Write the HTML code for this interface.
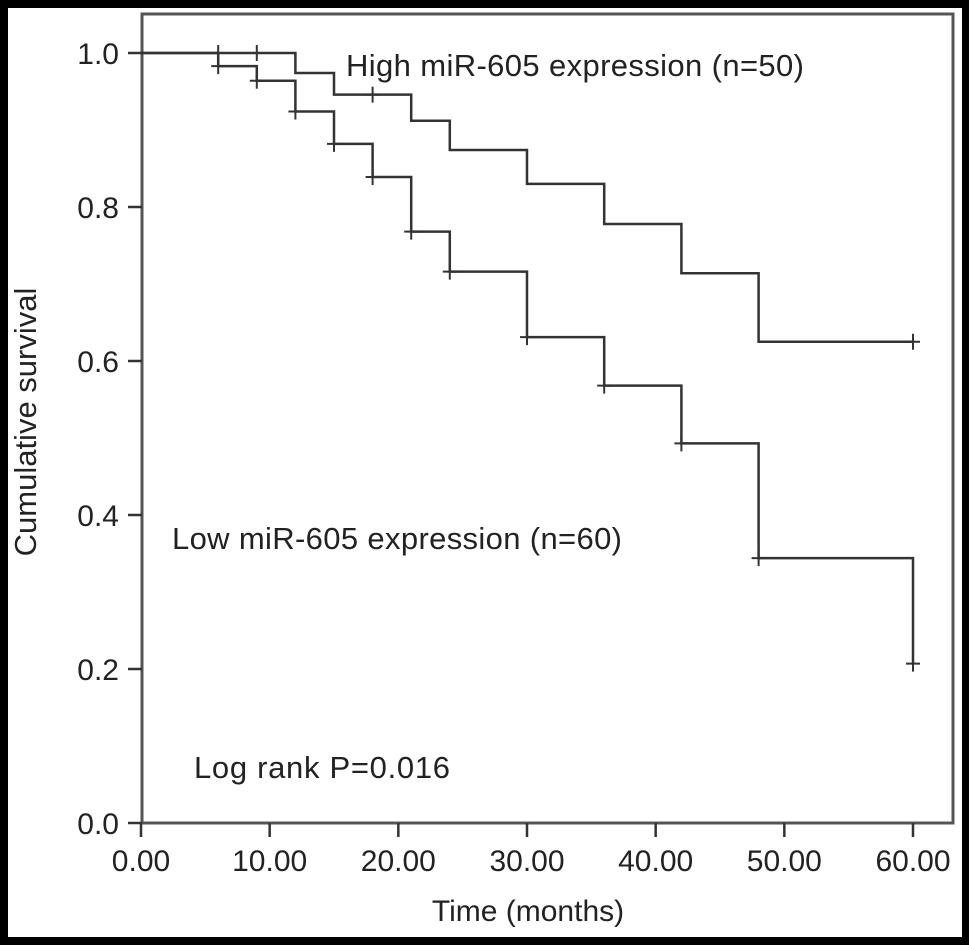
<!DOCTYPE html>
<html><head><meta charset="utf-8"><style>
html,body{margin:0;padding:0;background:#000;}
svg{display:block;}
text{font-family:"Liberation Sans",Arial,sans-serif;fill:#222;}
</style></head><body>
<svg width="969" height="945" viewBox="0 0 969 945">
<rect x="8" y="8" width="954" height="929" fill="#fff"/>
<g id="plot"></g>
<text x="346" y="76" font-size="31" textLength="458">High miR-605 expression (n=50)</text>
<text x="172" y="549" font-size="31" textLength="450">Low miR-605 expression (n=60)</text>
<text x="194" y="778" font-size="31" textLength="256">Log rank P=0.016</text>
<text x="528" y="921" font-size="30" text-anchor="middle">Time (months)</text>
<text transform="translate(36,422) rotate(-90)" font-size="31" text-anchor="middle">Cumulative survival</text>
</svg>
<script>
const xTicks=[0,10,20,30,40,50,60];
const xTickLabels=["0.00","10.00","20.00","30.00","40.00","50.00","60.00"];
const yTicks=[0,0.2,0.4,0.6,0.8,1.0];
const yTickLabels=["0.0","0.2","0.4","0.6","0.8","1.0"];
const highTimes=[0,12,15,21,24,30,36,42,48];
const highSurv=[1.0,0.974,0.946,0.912,0.874,0.830,0.778,0.714,0.625];
const highCensor=[6,9,18,60];
const lowTimes=[0,6,9,12,15,18,21,24,30,36,42,48,60];
const lowSurv=[1.0,0.983,0.964,0.924,0.882,0.839,0.768,0.716,0.631,0.568,0.493,0.344,0.207];
const lowCensor=[6,9,12,15,18,21,24,30,36,42,48,60];

const NS="http://www.w3.org/2000/svg";
const g=document.getElementById('plot');
const X=t=>141+t*(913-141)/60;
const Y=v=>823-v*(823-53);
function el(tag,attrs){const e=document.createElementNS(NS,tag);for(const k in attrs)e.setAttribute(k,attrs[k]);g.appendChild(e);return e;}

const frame=el('rect',{x:142,y:14,width:811,height:809,fill:'none',stroke:'#555',"stroke-width":3});



xTicks.forEach((t,i)=>{
  const l=el('line',{x1:X(t),x2:X(t),y1:823,y2:837,stroke:'#333',"stroke-width":2.5});
  
  
  const tx=el('text',{x:X(t),y:871,"font-size":30,"text-anchor":"middle"});
  tx.textContent=xTickLabels[i];
  
  
});
yTicks.forEach((v,i)=>{
  const l=el('line',{x1:128,x2:142,y1:Y(v),y2:Y(v),stroke:'#333',"stroke-width":2.5});
  
  
  const tx=el('text',{x:119,y:Y(v)+11,"font-size":30,"text-anchor":"end"});
  tx.textContent=yTickLabels[i];
  
  
});

function curve(times,surv,censor,endT,name){
  let d=`M${X(times[0])},${Y(surv[0])}`;
  for(let i=1;i<times.length;i++){d+=` H${X(times[i])} V${Y(surv[i])}`;}
  d+=` H${X(endT)}`;
  const p=el('path',{d:d,fill:'none',stroke:'#333',"stroke-width":2.5});
  
  
  censor.forEach(t=>{
    let v=surv[0];
    for(let i=0;i<times.length;i++){if(times[i]<=t)v=surv[i];}
    const m=el('path',{d:`M${X(t)-7},${Y(v)} H${X(t)+7} M${X(t)},${Y(v)-8} V${Y(v)+8}`,stroke:'#333',"stroke-width":2});
    
    
  });
}
curve(highTimes,highSurv,highCensor,60,'high');
curve(lowTimes,lowSurv,lowCensor,60,'low');
</script>
</body></html>
